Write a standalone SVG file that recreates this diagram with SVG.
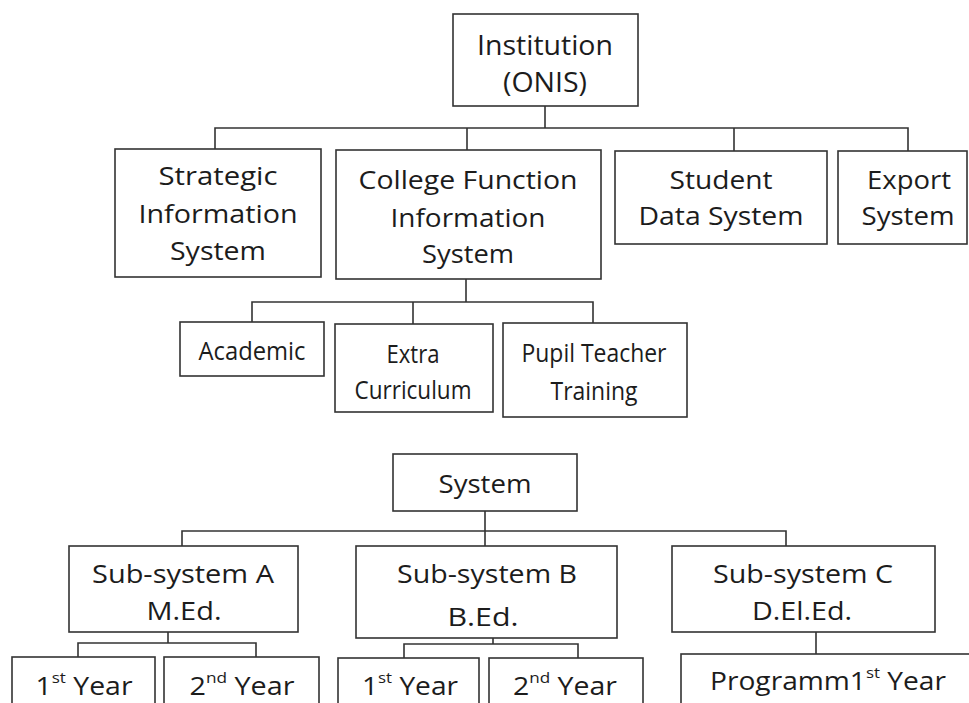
<svg xmlns="http://www.w3.org/2000/svg" width="969" height="703" viewBox="0 0 969 703">
<style>
.box{fill:#fff;stroke:#333;stroke-width:1.6}
.con{fill:none;stroke:#333;stroke-width:1.6}
text{font-family:"Open Sans","Noto Sans","Liberation Sans",sans-serif;font-size:25px;fill:#1c1c1c;text-anchor:middle}
.big{font-size:28px}
.sup{font-size:15px}
</style>
<rect width="969" height="703" fill="#fff"/>
<g id="connectors">
<path class="con" d="M545,106V128M215,149V128H908V151M467,128V150M734,128V151"/>
<path class="con" d="M466,279V302M252,322V302H593V323M413,302V324"/>
<path class="con" d="M485,511V531M182,546V531H786V546M485,531V546"/>
<path class="con" d="M168,632V643M78,657V643H256V657"/>
<path class="con" d="M493,638V644M404,658V644H578V658"/>
<path class="con" d="M816,632V654"/>
</g>
<g id="institution"><rect class="box" x="453" y="14" width="185" height="92"/>
<text class="big" x="545" y="55" textLength="136" lengthAdjust="spacingAndGlyphs">Institution</text>
<text class="big" x="545" y="92" textLength="84" lengthAdjust="spacingAndGlyphs">(ONIS)</text></g>
<g id="strategic"><rect class="box" x="115" y="149" width="206" height="128"/>
<text x="218" y="185" textLength="119" lengthAdjust="spacingAndGlyphs">Strategic</text>
<text x="218" y="223" textLength="159" lengthAdjust="spacingAndGlyphs">Information</text>
<text x="218" y="260" textLength="96" lengthAdjust="spacingAndGlyphs">System</text></g>
<g id="college"><rect class="box" x="336" y="150" width="265" height="129"/>
<text x="468" y="189" textLength="219" lengthAdjust="spacingAndGlyphs">College Function</text>
<text x="468" y="227" textLength="155" lengthAdjust="spacingAndGlyphs">Information</text>
<text x="468" y="263" textLength="92" lengthAdjust="spacingAndGlyphs">System</text></g>
<g id="student"><rect class="box" x="615" y="151" width="212" height="93"/>
<text x="721" y="189" textLength="103" lengthAdjust="spacingAndGlyphs">Student</text>
<text x="721" y="225" textLength="165" lengthAdjust="spacingAndGlyphs">Data System</text></g>
<g id="export"><rect class="box" x="838" y="151" width="129" height="93"/>
<text x="909" y="189" textLength="84" lengthAdjust="spacingAndGlyphs">Export</text>
<text x="908" y="225" textLength="93" lengthAdjust="spacingAndGlyphs">System</text></g>
<g id="academic"><rect class="box" x="180" y="322" width="144" height="54"/>
<text x="252" y="360" textLength="107" lengthAdjust="spacingAndGlyphs">Academic</text></g>
<g id="extra"><rect class="box" x="335" y="324" width="158" height="88"/>
<text x="413" y="363" textLength="53" lengthAdjust="spacingAndGlyphs">Extra</text>
<text x="413" y="399" textLength="117" lengthAdjust="spacingAndGlyphs">Curriculum</text></g>
<g id="pupil"><rect class="box" x="503" y="323" width="184" height="94"/>
<text x="594" y="362" textLength="145" lengthAdjust="spacingAndGlyphs">Pupil Teacher</text>
<text x="594" y="400" textLength="87" lengthAdjust="spacingAndGlyphs">Training</text></g>
<g id="system"><rect class="box" x="393" y="454" width="184" height="57"/>
<text x="485" y="493" textLength="93" lengthAdjust="spacingAndGlyphs">System</text></g>
<g id="subA"><rect class="box" x="69" y="546" width="229" height="86"/>
<text x="183" y="583" textLength="182" lengthAdjust="spacingAndGlyphs">Sub-system A</text>
<text x="184" y="620" textLength="75" lengthAdjust="spacingAndGlyphs">M.Ed.</text></g>
<g id="subB"><rect class="box" x="356" y="546" width="261" height="92"/>
<text x="487" y="583" textLength="180" lengthAdjust="spacingAndGlyphs">Sub-system B</text>
<text x="483" y="626" textLength="71" lengthAdjust="spacingAndGlyphs">B.Ed.</text></g>
<g id="subC"><rect class="box" x="672" y="546" width="263" height="86"/>
<text x="803" y="583" textLength="180" lengthAdjust="spacingAndGlyphs">Sub-system C</text>
<text x="802" y="620" textLength="100" lengthAdjust="spacingAndGlyphs">D.El.Ed.</text></g>
<g id="a1"><rect class="box" x="12" y="657" width="143" height="60"/>
<text x="84" y="695" textLength="97" lengthAdjust="spacingAndGlyphs">1<tspan class="sup" dy="-12">st</tspan><tspan dy="12"> Year</tspan></text></g>
<g id="a2"><rect class="box" x="164" y="657" width="155" height="60"/>
<text x="242" y="695" textLength="105" lengthAdjust="spacingAndGlyphs">2<tspan class="sup" dy="-12">nd</tspan><tspan dy="12"> Year</tspan></text></g>
<g id="b1"><rect class="box" x="338" y="658" width="141" height="60"/>
<text x="410" y="695" textLength="96" lengthAdjust="spacingAndGlyphs">1<tspan class="sup" dy="-12">st</tspan><tspan dy="12"> Year</tspan></text></g>
<g id="b2"><rect class="box" x="489" y="658" width="154" height="60"/>
<text x="565" y="695" textLength="104" lengthAdjust="spacingAndGlyphs">2<tspan class="sup" dy="-12">nd</tspan><tspan dy="12"> Year</tspan></text></g>
<g id="c1"><rect class="box" x="681" y="654" width="300" height="60"/>
<text x="828" y="690" textLength="236" lengthAdjust="spacingAndGlyphs">Programm1<tspan class="sup" dy="-12">st</tspan><tspan dy="12"> Year</tspan></text></g>
</svg>
